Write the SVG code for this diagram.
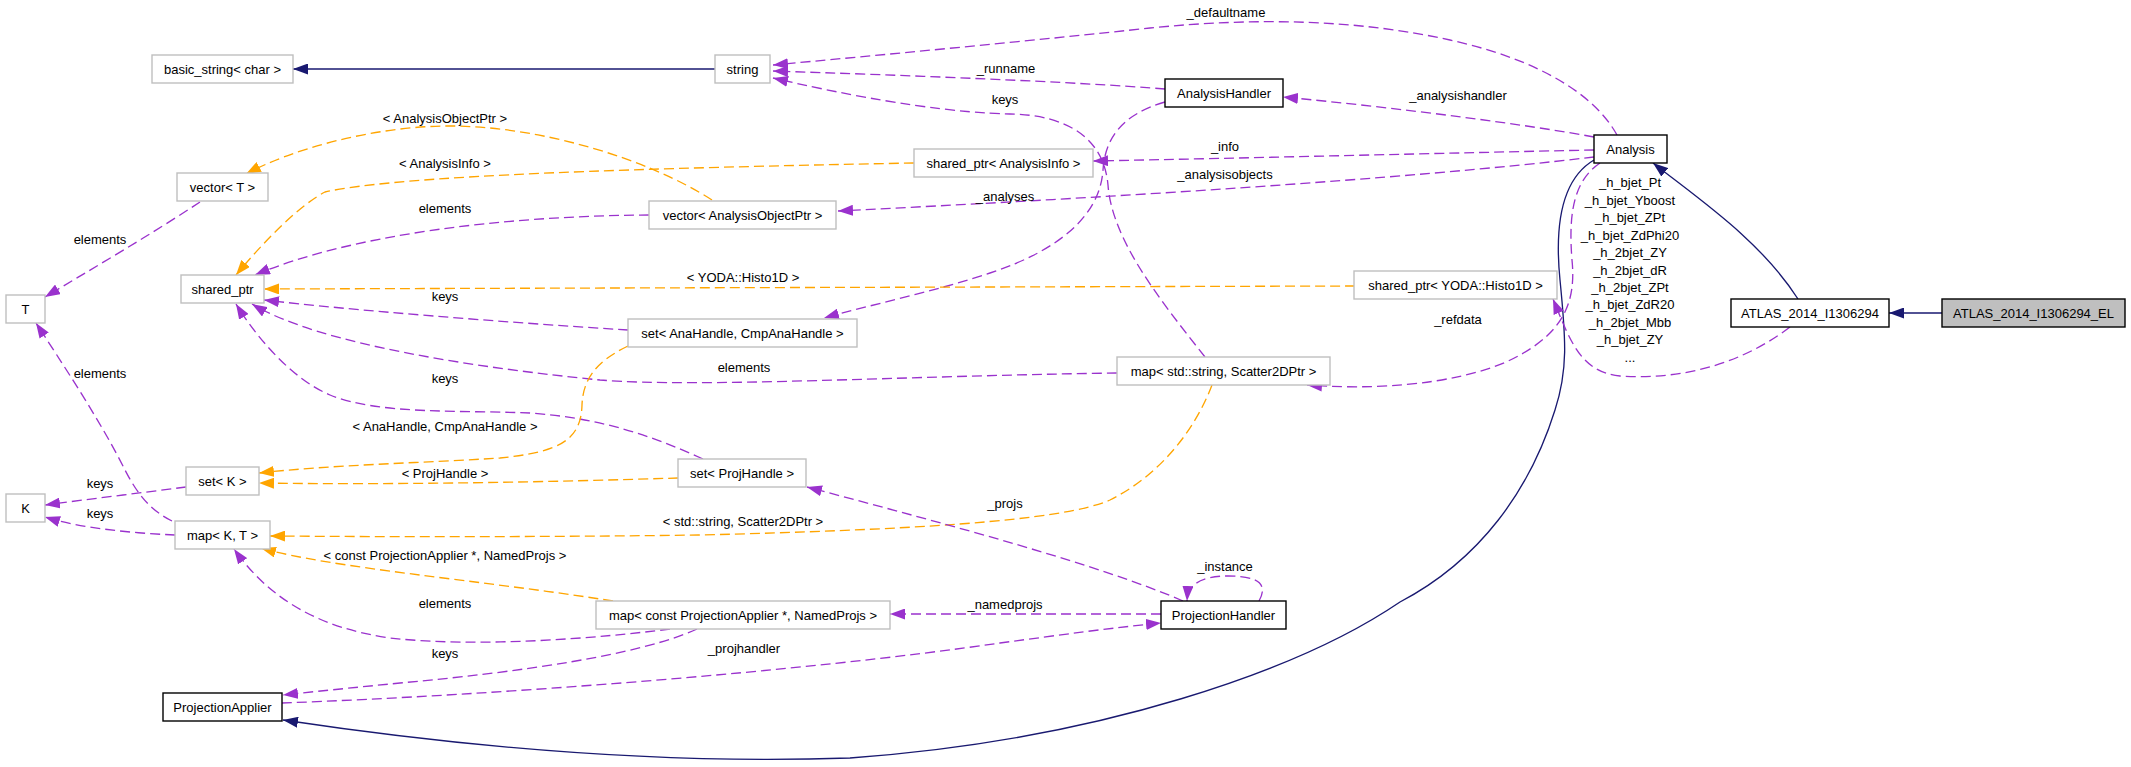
<svg xmlns="http://www.w3.org/2000/svg" width="2131" height="767" viewBox="0 0 2131 767">
<style>
text{font-family:"Liberation Sans",Arial,Helvetica,sans-serif;font-size:13px;fill:#000}
.n text,.l{text-anchor:middle}
.g rect{fill:#fff;stroke:#bfbfbf;stroke-width:1.4}
.b rect{fill:#fff;stroke:#000;stroke-width:1.4}
.h rect{fill:#bfbfbf;stroke:#000;stroke-width:1.4}
.e path{fill:none;stroke-width:1.33}
.u{stroke:#9a32cd;stroke-dasharray:10,5;marker-end:url(#ap)}
.t{stroke:#ffa500;stroke-dasharray:10,5;marker-end:url(#ao)}
.i{stroke:#191970;marker-end:url(#ab)}
</style>
<defs>
<marker id="ap" viewBox="0 0 15 11" refX="15" refY="5.5" markerWidth="15" markerHeight="11" markerUnits="userSpaceOnUse" orient="auto"><path d="M0,0 L15,5.5 L0,11 z" fill="#9a32cd"/></marker>
<marker id="ao" viewBox="0 0 15 11" refX="15" refY="5.5" markerWidth="15" markerHeight="11" markerUnits="userSpaceOnUse" orient="auto"><path d="M0,0 L15,5.5 L0,11 z" fill="#ffa500"/></marker>
<marker id="ab" viewBox="0 0 15 11" refX="15" refY="5.5" markerWidth="15" markerHeight="11" markerUnits="userSpaceOnUse" orient="auto"><path d="M0,0 L15,5.5 L0,11 z" fill="#191970"/></marker>
</defs>
<rect width="2131" height="767" fill="#fff"/>
<g id="edges" class="e">
<path class="i" d="M715,69 L293,69"/>
<path class="u" d="M1617,135 C1595,95 1540,60 1450,40 C1360,20 1260,17 1150,28 C1040,40 870,56 773,65"/>
<path class="u" d="M1165,89 C1080,82 900,75 773,71"/>
<path class="u" d="M1205,357 C1160,300 1112,240 1108,185 C1104,140 1070,115 1010,114 C960,113 880,103 773,78"/>
<path class="u" d="M1594,137 C1530,125 1400,108 1283,97"/>
<path class="u" d="M1594,150 C1450,153 1250,158 1093,161"/>
<path class="u" d="M1594,157 C1400,180 1100,198 838,211"/>
<path class="u" d="M1165,102 C1120,115 1105,140 1103,170 C1100,215 1060,250 990,273 C940,290 870,305 824,318"/>
<path class="t" d="M914,163 C650,168 400,175 325,192 C300,205 265,240 236,275"/>
<path class="t" d="M712,200 C650,160 540,125 445,126 C370,127 290,150 246,174"/>
<path class="u" d="M649,215 C500,216 350,235 255,275"/>
<path class="u" d="M200,202 C150,235 90,270 45,297"/>
<path class="t" d="M1355,286 C1000,287 600,288 264,289"/>
<path class="u" d="M628,330 C500,322 350,310 264,300"/>
<path class="u" d="M1117,373 C900,376 700,388 600,380 C480,368 320,345 252,304"/>
<path class="u" d="M703,459 C650,435 600,418 530,413 C460,410 380,415 330,395 C290,378 255,335 236,304"/>
<path class="t" d="M628,346 C595,362 583,380 582,405 C581,440 560,452 500,458 C420,463 330,465 259,473"/>
<path class="t" d="M678,478 C550,482 400,485 259,483"/>
<path class="u" d="M186,487 C140,493 90,499 45,505"/>
<path class="u" d="M175,535 C130,533 80,528 45,517"/>
<path class="u" d="M172,521 C150,510 138,495 125,470 C100,420 60,360 36,323"/>
<path class="t" d="M1212,385 C1195,430 1160,475 1110,500 C1060,522 900,530 700,535 C550,537 400,537 270,536"/>
<path class="t" d="M613,601 C480,580 330,568 261,548"/>
<path class="u" d="M670,629 C600,638 480,648 390,638 C320,628 270,600 234,549"/>
<path class="u" d="M697,629 C640,655 520,672 400,683 C350,688 310,692 283,695"/>
<path class="u" d="M282,703 C500,695 800,672 1000,643 C1060,635 1110,628 1161,623"/>
<path class="u" d="M1161,614 L890,614"/>
<path class="u" d="M1183,601 C1100,565 950,525 807,487"/>
<path class="u" d="M1259,601 C1268,585 1260,576 1228,576 C1200,576 1188,585 1187,601"/>
<path class="i" d="M1594,160 C1560,180 1555,230 1560,280 C1566,340 1568,370 1555,410 C1530,490 1480,560 1400,602 C1300,670 1100,740 850,758 C650,765 450,745 283,720"/>
<path class="i" d="M1798,299 C1760,240 1700,200 1653,163"/>
<path class="i" d="M1942,313 L1889,313"/>
<path class="u" d="M1600,163 C1575,180 1568,210 1572,260 C1576,300 1565,330 1520,355 C1480,378 1400,392 1307,385"/>
<path class="u" d="M1790,327 C1740,365 1680,380 1620,376 C1580,372 1570,340 1553,299"/>
</g>
<g id="edge-labels" class="l">
<text class="l" x="1226" y="17">_defaultname</text>
<text class="l" x="1006" y="73">_runname</text>
<text class="l" x="1005" y="104">keys</text>
<text class="l" x="1458" y="100">_analysishandler</text>
<text class="l" x="1225" y="151">_info</text>
<text class="l" x="1225" y="179">_analysisobjects</text>
<text class="l" x="1005" y="201">_analyses</text>
<text class="l" x="445" y="123">&lt; AnalysisObjectPtr &gt;</text>
<text class="l" x="445" y="168">&lt; AnalysisInfo &gt;</text>
<text class="l" x="445" y="213">elements</text>
<text class="l" x="100" y="244">elements</text>
<text class="l" x="743" y="282">&lt; YODA::Histo1D &gt;</text>
<text class="l" x="445" y="301">keys</text>
<text class="l" x="744" y="372">elements</text>
<text class="l" x="445" y="383">keys</text>
<text class="l" x="100" y="378">elements</text>
<text class="l" x="445" y="431">&lt; AnaHandle, CmpAnaHandle &gt;</text>
<text class="l" x="445" y="478">&lt; ProjHandle &gt;</text>
<text class="l" x="100" y="488">keys</text>
<text class="l" x="100" y="518">keys</text>
<text class="l" x="1005" y="508">_projs</text>
<text class="l" x="743" y="526">&lt; std::string, Scatter2DPtr &gt;</text>
<text class="l" x="445" y="560">&lt; const ProjectionApplier *, NamedProjs &gt;</text>
<text class="l" x="1225" y="571">_instance</text>
<text class="l" x="445" y="608">elements</text>
<text class="l" x="1005" y="609">_namedprojs</text>
<text class="l" x="744" y="653">_projhandler</text>
<text class="l" x="445" y="658">keys</text>
<text class="l" x="1458" y="324">_refdata</text>
<text class="l" x="1630" y="187">_h_bjet_Pt</text>
<text class="l" x="1630" y="205">_h_bjet_Yboost</text>
<text class="l" x="1630" y="222">_h_bjet_ZPt</text>
<text class="l" x="1630" y="240">_h_bjet_ZdPhi20</text>
<text class="l" x="1630" y="257">_h_2bjet_ZY</text>
<text class="l" x="1630" y="275">_h_2bjet_dR</text>
<text class="l" x="1630" y="292">_h_2bjet_ZPt</text>
<text class="l" x="1630" y="309">_h_bjet_ZdR20</text>
<text class="l" x="1630" y="327">_h_2bjet_Mbb</text>
<text class="l" x="1630" y="344">_h_bjet_ZY</text>
<text class="l" x="1630" y="362">...</text>
</g>
<g id="node-el" class="n h"><rect x="1942" y="299" width="183" height="28"/><text x="2033.5" y="317.5">ATLAS_2014_I1306294_EL</text></g>
<g id="node-atlas" class="n b"><rect x="1731" y="299" width="158" height="28"/><text x="1810" y="317.5">ATLAS_2014_I1306294</text></g>
<g id="node-analysis" class="n b"><rect x="1594" y="135" width="73" height="28"/><text x="1630.5" y="153.5">Analysis</text></g>
<g id="node-projapplier" class="n b"><rect x="163" y="693" width="119" height="28"/><text x="222.5" y="711.5">ProjectionApplier</text></g>
<g id="node-projhandler" class="n b"><rect x="1161" y="601" width="125" height="28"/><text x="1223.5" y="619.5">ProjectionHandler</text></g>
<g id="node-map-pa" class="n g"><rect x="596" y="601" width="294" height="28"/><text x="743" y="619.5">map&lt; const ProjectionApplier *, NamedProjs &gt;</text></g>
<g id="node-map-kt" class="n g"><rect x="175" y="521" width="95" height="28"/><text x="222.5" y="539.5">map&lt; K, T &gt;</text></g>
<g id="node-k" class="n g"><rect x="6" y="494" width="39" height="28"/><text x="25.5" y="512.5">K</text></g>
<g id="node-t" class="n g"><rect x="6" y="295" width="39" height="28"/><text x="25.5" y="313.5">T</text></g>
<g id="node-set-proj" class="n g"><rect x="678" y="459" width="128" height="28"/><text x="742" y="477.5">set&lt; ProjHandle &gt;</text></g>
<g id="node-set-k" class="n g"><rect x="186" y="467" width="73" height="28"/><text x="222.5" y="485.5">set&lt; K &gt;</text></g>
<g id="node-shared-ptr" class="n g"><rect x="181" y="275" width="83" height="28"/><text x="222.5" y="293.5">shared_ptr</text></g>
<g id="node-anahandler" class="n b"><rect x="1165" y="79" width="118" height="28"/><text x="1224" y="97.5">AnalysisHandler</text></g>
<g id="node-set-ana" class="n g"><rect x="628" y="319" width="229" height="28"/><text x="742.5" y="337.5">set&lt; AnaHandle, CmpAnaHandle &gt;</text></g>
<g id="node-string" class="n g"><rect x="715" y="55" width="55" height="28"/><text x="742.5" y="73.5">string</text></g>
<g id="node-basic-string" class="n g"><rect x="152" y="55" width="141" height="28"/><text x="222.5" y="73.5">basic_string&lt; char &gt;</text></g>
<g id="node-sp-info" class="n g"><rect x="914" y="149" width="179" height="28"/><text x="1003.5" y="167.5">shared_ptr&lt; AnalysisInfo &gt;</text></g>
<g id="node-vec-aop" class="n g"><rect x="649" y="201" width="187" height="28"/><text x="742.5" y="219.5">vector&lt; AnalysisObjectPtr &gt;</text></g>
<g id="node-vec-t" class="n g"><rect x="177" y="173" width="91" height="28"/><text x="222.5" y="191.5">vector&lt; T &gt;</text></g>
<g id="node-sp-histo" class="n g"><rect x="1354" y="271" width="203" height="28"/><text x="1455.5" y="289.5">shared_ptr&lt; YODA::Histo1D &gt;</text></g>
<g id="node-map-str" class="n g"><rect x="1117" y="357" width="213" height="28"/><text x="1223.5" y="375.5">map&lt; std::string, Scatter2DPtr &gt;</text></g>
</svg>
